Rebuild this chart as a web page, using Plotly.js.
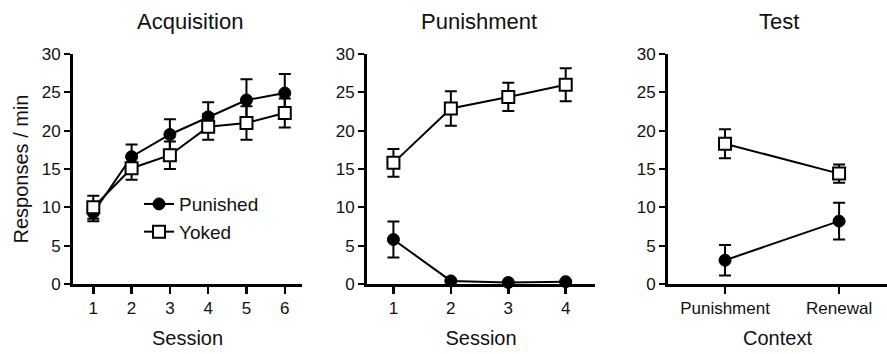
<!DOCTYPE html>
<html><head><meta charset="utf-8">
<script src="https://cdn.plot.ly/plotly-3.0.1.min.js"></script>
<style>html,body{margin:0;padding:0;background:#fff}#chart{width:887px;height:354px}</style>
</head><body><div id="chart"></div>
<script>
// Acquisition
const acqSessions = [1, 2, 3, 4, 5, 6];
const acqPunished = [9.3, 16.6, 19.5, 21.8, 24.0, 24.9];
const acqPunishedErr = [1.1, 1.6, 2.0, 1.9, 2.7, 2.5];
const acqYoked = [10.0, 15.1, 16.8, 20.5, 21.0, 22.3];
const acqYokedErr = [1.5, 1.5, 1.8, 1.7, 2.2, 1.9];
// Punishment
const punSessions = [1, 2, 3, 4];
const punPunished = [5.8, 0.4, 0.2, 0.3];
const punPunishedErr = [2.35, 0.1, 0.1, 0.1];
const punYoked = [15.8, 22.9, 24.4, 26.0];
const punYokedErr = [1.8, 2.25, 1.85, 2.15];
// Test
const testContexts = ["Punishment", "Renewal"];
const testPunished = [3.1, 8.2];
const testPunishedErr = [2.0, 2.4];
const testYoked = [18.3, 14.4];
const testYokedErr = [1.9, 1.2];

const panelTitles = ["Acquisition", "Punishment", "Test"];
const seriesNames = ["Punished", "Yoked"];
const yTicks = [0, 5, 10, 15, 20, 25, 30];

const W = 887;
const FONT = "Liberation Sans, Arial, sans-serif";

function mk(x, y, err, kind, xa, ya, showleg) {
  const punished = kind === 0;
  return {
    x: x, y: y, xaxis: xa, yaxis: ya, type: 'scatter', mode: 'lines+markers',
    name: seriesNames[kind], showlegend: showleg, legendrank: kind,
    line: {color: '#000', width: 2},
    marker: punished ? {symbol: 'circle', size: 12, color: '#000', line: {color: '#000', width: 1}}
                     : {symbol: 'square', size: 12, color: '#fff', line: {color: '#000', width: 2}},
    error_y: {type: 'data', array: err, visible: true, color: '#000', thickness: 2, width: 6},
    cliponaxis: false
  };
}

const testX = [0, 1];
const data = [
  mk(acqSessions, acqPunished, acqPunishedErr, 0, 'x', 'y', true),
  mk(acqSessions, acqYoked, acqYokedErr, 1, 'x', 'y', true),
  mk(punSessions, punPunished, punPunishedErr, 0, 'x2', 'y2', false),
  mk(punSessions, punYoked, punYokedErr, 1, 'x2', 'y2', false),
  mk(testX, testPunished, testPunishedErr, 0, 'x3', 'y3', false),
  mk(testX, testYoked, testYokedErr, 1, 'x3', 'y3', false),
];

function xax(d0, d1, range, tickvals, ticktext, title, anchor) {
  return {
    domain: [d0 / W, d1 / W], range: range, anchor: anchor,
    tickmode: 'array', tickvals: tickvals, ticktext: ticktext,
    showline: true, linecolor: '#000', linewidth: 3, mirror: false,
    ticks: 'outside', ticklen: 7, tickwidth: 2.5, tickcolor: '#000',
    showgrid: false, zeroline: false,
    tickfont: {family: FONT, size: 17, color: '#111'},
    title: {text: title, font: {family: FONT, size: 20, color: '#111'}, standoff: 14}
  };
}
function yax(anchor, title) {
  return {
    domain: [0, 1], range: [0, 30], anchor: anchor,
    tickmode: 'array', tickvals: yTicks,
    showline: true, linecolor: '#000', linewidth: 3,
    ticks: 'outside', ticklen: 6, tickwidth: 2, tickcolor: '#000',
    showgrid: false, zeroline: false,
    tickfont: {family: FONT, size: 17, color: '#111'},
    title: {text: title, font: {family: FONT, size: 20, color: '#111'}, standoff: 8}
  };
}

const layout = {
  width: 887, height: 354,
  margin: {l: 0, r: 0, t: 54, b: 70},
  paper_bgcolor: '#fff', plot_bgcolor: '#fff',
  font: {family: FONT, color: '#111'},
  xaxis: xax(73, 302, [0.47, 6.45], acqSessions, acqSessions.map(String), 'Session', 'y'),
  yaxis: yax('x', 'Responses / min'),
  xaxis2: xax(367, 595, [0.54, 4.51], punSessions, punSessions.map(String), 'Session', 'y2'),
  yaxis2: yax('x2', ''),
  xaxis3: xax(668, 887, [-0.5, 1.42], testX, testContexts, 'Context', 'y3'),
  yaxis3: yax('x3', ''),
  showlegend: true,
  legend: {x: 139 / W, xanchor: 'left', y: 0.43, yanchor: 'top', bgcolor: 'rgba(0,0,0,0)',
           font: {family: FONT, size: 19, color: '#111'}, tracegroupgap: 0, itemwidth: 30},
  annotations: panelTitles.map((t, i) => ({
    text: t, x: [190, 479, 779][i] / W, xanchor: 'center', y: 1, xref: 'paper', yref: 'paper',
    yshift: 33, showarrow: false, yanchor: 'middle',
    font: {family: FONT, size: 22, color: '#111'}
  }))
};

Plotly.newPlot('chart', data, layout, {displayModeBar: false, staticPlot: true});
</script></body></html>
